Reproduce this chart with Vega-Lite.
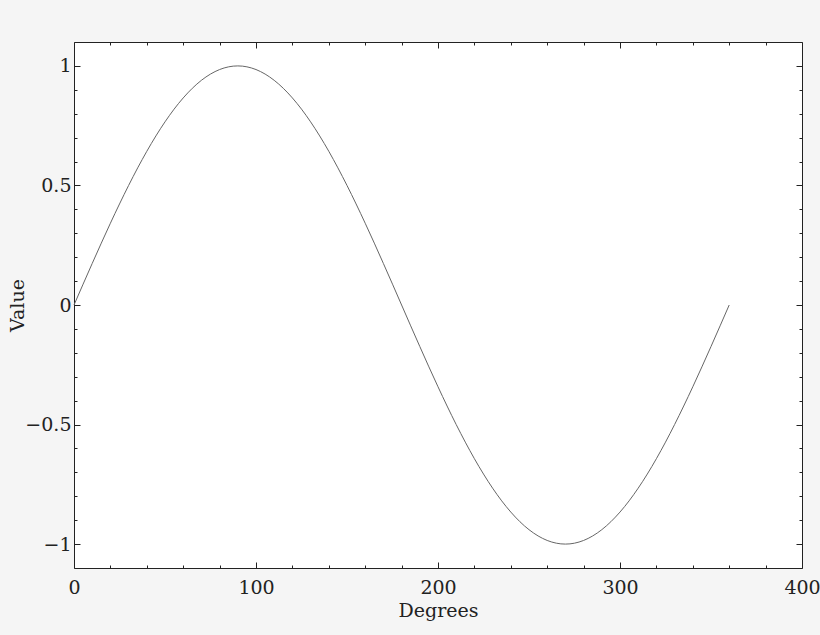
{
  "$schema": "https://vega.github.io/schema/vega-lite/v6.json",
  "width": 728,
  "height": 526,
  "autosize": {"type": "none"},
  "padding": {"left": 74, "top": 42, "right": 18, "bottom": 67},
  "background": "#f5f5f5",
  "data": {
    "values": [
      {"deg": 0, "val": 0}, {"deg": 5, "val": 0.0872}, {"deg": 10, "val": 0.1736},
      {"deg": 15, "val": 0.2588}, {"deg": 20, "val": 0.342}, {"deg": 25, "val": 0.4226},
      {"deg": 30, "val": 0.5}, {"deg": 35, "val": 0.5736}, {"deg": 40, "val": 0.6428},
      {"deg": 45, "val": 0.7071}, {"deg": 50, "val": 0.766}, {"deg": 55, "val": 0.8192},
      {"deg": 60, "val": 0.866}, {"deg": 65, "val": 0.9063}, {"deg": 70, "val": 0.9397},
      {"deg": 75, "val": 0.9659}, {"deg": 80, "val": 0.9848}, {"deg": 85, "val": 0.9962},
      {"deg": 90, "val": 1}, {"deg": 95, "val": 0.9962}, {"deg": 100, "val": 0.9848},
      {"deg": 105, "val": 0.9659}, {"deg": 110, "val": 0.9397}, {"deg": 115, "val": 0.9063},
      {"deg": 120, "val": 0.866}, {"deg": 125, "val": 0.8192}, {"deg": 130, "val": 0.766},
      {"deg": 135, "val": 0.7071}, {"deg": 140, "val": 0.6428}, {"deg": 145, "val": 0.5736},
      {"deg": 150, "val": 0.5}, {"deg": 155, "val": 0.4226}, {"deg": 160, "val": 0.342},
      {"deg": 165, "val": 0.2588}, {"deg": 170, "val": 0.1736}, {"deg": 175, "val": 0.0872},
      {"deg": 180, "val": 0}, {"deg": 185, "val": -0.0872}, {"deg": 190, "val": -0.1736},
      {"deg": 195, "val": -0.2588}, {"deg": 200, "val": -0.342}, {"deg": 205, "val": -0.4226},
      {"deg": 210, "val": -0.5}, {"deg": 215, "val": -0.5736}, {"deg": 220, "val": -0.6428},
      {"deg": 225, "val": -0.7071}, {"deg": 230, "val": -0.766}, {"deg": 235, "val": -0.8192},
      {"deg": 240, "val": -0.866}, {"deg": 245, "val": -0.9063}, {"deg": 250, "val": -0.9397},
      {"deg": 255, "val": -0.9659}, {"deg": 260, "val": -0.9848}, {"deg": 265, "val": -0.9962},
      {"deg": 270, "val": -1}, {"deg": 275, "val": -0.9962}, {"deg": 280, "val": -0.9848},
      {"deg": 285, "val": -0.9659}, {"deg": 290, "val": -0.9397}, {"deg": 295, "val": -0.9063},
      {"deg": 300, "val": -0.866}, {"deg": 305, "val": -0.8192}, {"deg": 310, "val": -0.766},
      {"deg": 315, "val": -0.7071}, {"deg": 320, "val": -0.6428}, {"deg": 325, "val": -0.5736},
      {"deg": 330, "val": -0.5}, {"deg": 335, "val": -0.4226}, {"deg": 340, "val": -0.342},
      {"deg": 345, "val": -0.2588}, {"deg": 350, "val": -0.1736}, {"deg": 355, "val": -0.0872},
      {"deg": 360, "val": 0}
    ]
  },
  "layer": [
    {
      "mark": {"type": "line", "color": "#666666", "strokeWidth": 1, "interpolate": "monotone"},
      "encoding": {
        "x": {
          "field": "deg",
          "type": "quantitative",
          "title": "Degrees",
          "scale": {"domain": [0, 400], "nice": false, "zero": false},
          "axis": {
            "orient": "bottom",
            "values": [0, 20, 40, 60, 80, 100, 120, 140, 160, 180, 200, 220, 240, 260, 280, 300, 320, 340, 360, 380, 400],
            "tickSize": {"condition": {"test": "datum.value % 100 === 0", "value": -6}, "value": -3},
            "labelExpr": "datum.value % 100 === 0 ? datum.label : ''",
            "labelFlush": false,
            "labelPadding": 16,
            "titlePadding": 4
          }
        },
        "y": {
          "field": "val",
          "type": "quantitative",
          "title": "Value",
          "scale": {"domain": [-1.1, 1.1], "nice": false, "zero": false},
          "axis": {
            "orient": "left",
            "values": [-1, -0.9, -0.8, -0.7, -0.6, -0.5, -0.4, -0.3, -0.2, -0.1, 0, 0.1, 0.2, 0.3, 0.4, 0.5, 0.6, 0.7, 0.8, 0.9, 1],
            "tickSize": {"condition": {"test": "abs(datum.value * 2 - round(datum.value * 2)) < 0.001", "value": -6}, "value": -3},
            "labelExpr": "abs(datum.value * 2 - round(datum.value * 2)) < 0.001 ? replace(format(datum.value, '~g'), '-', '\u2212') : ''",
            "labelFlush": false,
            "labelPadding": 9,
            "titlePadding": -3
          }
        }
      }
    },
    {
      "mark": {"type": "line", "strokeOpacity": 0},
      "encoding": {
        "x": {
          "field": "deg",
          "type": "quantitative",
          "scale": {"domain": [0, 400], "nice": false, "zero": false},
          "axis": {
            "orient": "top",
            "title": null,
            "labels": false,
            "values": [0, 20, 40, 60, 80, 100, 120, 140, 160, 180, 200, 220, 240, 260, 280, 300, 320, 340, 360, 380, 400],
            "tickSize": {"condition": {"test": "datum.value % 100 === 0", "value": -6}, "value": -3}
          }
        },
        "y": {
          "field": "val",
          "type": "quantitative",
          "scale": {"domain": [-1.1, 1.1], "nice": false, "zero": false},
          "axis": {
            "orient": "right",
            "title": null,
            "labels": false,
            "values": [-1, -0.9, -0.8, -0.7, -0.6, -0.5, -0.4, -0.3, -0.2, -0.1, 0, 0.1, 0.2, 0.3, 0.4, 0.5, 0.6, 0.7, 0.8, 0.9, 1],
            "tickSize": {"condition": {"test": "abs(datum.value * 2 - round(datum.value * 2)) < 0.001", "value": -6}, "value": -3}
          }
        }
      }
    }
  ],
  "resolve": {"axis": {"x": "independent", "y": "independent"}},
  "config": {
    "view": {"fill": "white", "stroke": "#222222", "strokeWidth": 1},
    "axis": {
      "grid": false,
      "domain": false,
      "tickColor": "#222222",
      "tickWidth": 1,
      "labelFont": "DejaVu Serif",
      "labelFontSize": 19,
      "labelColor": "#222222",
      "titleFont": "DejaVu Serif",
      "titleFontSize": 19,
      "titleFontWeight": "normal",
      "titleColor": "#222222"
    }
  }
}
